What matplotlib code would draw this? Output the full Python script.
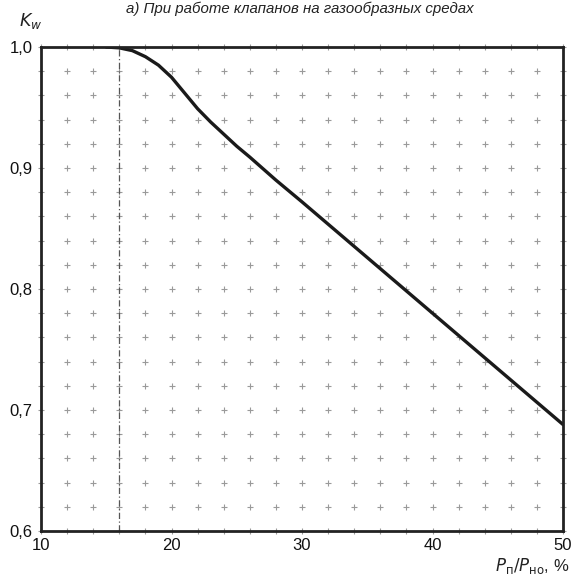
import matplotlib
matplotlib.use("Agg")
import matplotlib.pyplot as plt
import numpy as np

plt.rcParams['font.family'] = ['Liberation Sans', 'DejaVu Sans']

# Curve data
x_vals = [15, 16, 17, 18, 19, 20, 21, 22, 23, 24, 25, 26, 28, 30, 35, 40, 45, 50]
k_vals = [1.000, 0.9993, 0.997, 0.992, 0.985, 0.975, 0.962, 0.949, 0.938, 0.928,
          0.918, 0.909, 0.890, 0.872, 0.826, 0.780, 0.734, 0.688]

x_ticks = [10, 20, 30, 40, 50]
y_ticks = [0.6, 0.7, 0.8, 0.9, 1.0]
y_tick_labels = ["0,6", "0,7", "0,8", "0,9", "1,0"]
grid_x = list(range(10, 51, 2))
grid_y = [round(0.60 + 0.02 * i, 2) for i in range(21)]
ref_x = 16

title = "а) При работе клапанов на газообразных средах"

fig = plt.figure(figsize=(5.76, 5.79), dpi=100)
ax = fig.add_axes([41/576, 1 - 531/579, (563-41)/576, (531-47)/579])

gx, gy = np.meshgrid(grid_x, grid_y)
ax.plot(gx.ravel(), gy.ravel(), linestyle='none', marker='+', markersize=5,
        markeredgewidth=0.8, color='#9a9a9a', clip_on=False, zorder=1)

ax.plot([ref_x, ref_x], [0.6, 1.0], color='#555555', linewidth=0.9,
        linestyle=(0, (5, 2, 1, 2)), zorder=2)

ax.plot(x_vals, k_vals, color='#1a1a1a', linewidth=2.4, zorder=3,
        solid_capstyle='round', solid_joinstyle='round')

ax.set_xlim(10, 50)
ax.set_ylim(0.6, 1.0)
ax.set_xticks(x_ticks)
ax.set_yticks(y_ticks)
ax.set_yticklabels(y_tick_labels)
ax.tick_params(length=0, labelsize=12, colors='#111111')
ax.tick_params(axis='x', pad=5)
ax.tick_params(axis='y', pad=6)
for s in ax.spines.values():
    s.set_linewidth(2.0)
    s.set_color('#222222')
    s.set_zorder(4)

fig.text(300/576, 1 - 9/579, title, ha='center', va='center',
         fontsize=10.8, style='italic', color='#222222')
fig.text(31/576, 1 - 21/579, r'$K_{w}$', ha='center', va='center',
         fontsize=12.5, color='#222222')
fig.text(569/576, 1 - 566/579, r'$P_{\mathrm{п}}/P_{\mathrm{но}}$, %', ha='right', va='center',
         fontsize=12, color='#222222')

fig.savefig('out.png', dpi=100)
